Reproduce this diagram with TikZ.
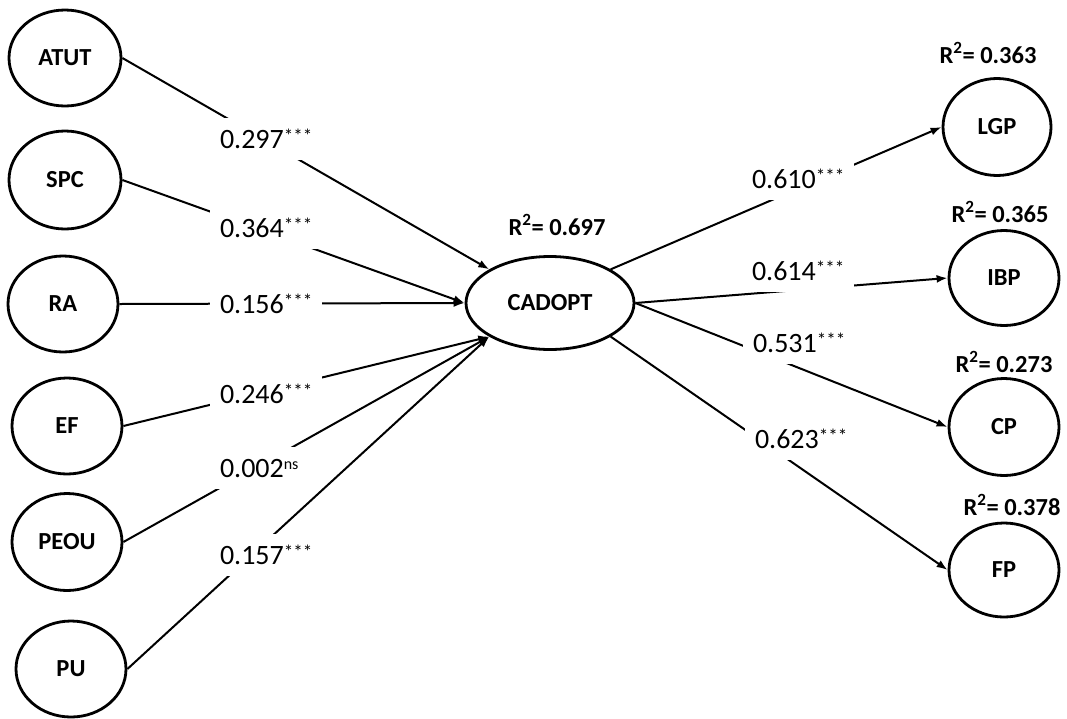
\documentclass[tikz,border=0pt]{standalone}
\usepackage{fontspec}
\setmainfont{Carlito}
\usetikzlibrary{shapes.geometric,arrows.meta}
\newcommand\sigmark[1]{\raisebox{6pt}{\fontsize{19pt}{19pt}\selectfont #1}}
\newcommand\nsmark[1]{\raisebox{7.5pt}{\fontsize{16pt}{16pt}\selectfont #1}}
\begin{document}
\begin{tikzpicture}[x=1pt,y=-1pt,
  lat/.style={draw, ellipse, line width=2.8pt, inner sep=0pt,
    font=\fontsize{24.5pt}{25pt}\selectfont\bfseries},
  coef/.style={fill=white, inner xsep=10pt, inner ysep=12pt, outer sep=0pt,
    text height=18pt, text depth=0pt, anchor=base west,
    font=\fontsize{28pt}{30pt}\selectfont},
  rsq/.style={anchor=base, inner sep=0pt, font=\fontsize{24.5pt}{25pt}\selectfont\bfseries},
  conn/.style={line width=2pt},
  arr/.style={conn, -{Latex[length=11pt,width=8pt]}}]
\useasboundingbox (0,0) rectangle (1067,718);
% latent variables
\node[lat, minimum width=112pt, minimum height=96pt] (ATUT) at (65,58) {ATUT};
\node[lat, minimum width=112pt, minimum height=98pt] (SPC) at (65,180) {SPC};
\node[lat, minimum width=110pt, minimum height=96pt] (RA) at (63,304) {RA};
\node[lat, minimum width=110pt, minimum height=96pt] (EF) at (67,426) {EF};
\node[lat, minimum width=110pt, minimum height=97pt] (PEOU) at (67,542) {PEOU};
\node[lat, minimum width=110pt, minimum height=96pt] (PU) at (71,669) {PU};
\node[lat, minimum width=168pt, minimum height=93pt] (CADOPT) at (550,303) {CADOPT};
\node[lat, minimum width=108pt, minimum height=97pt] (LGP) at (997,127) {LGP};
\node[lat, minimum width=110pt, minimum height=95pt] (IBP) at (1004,278) {IBP};
\node[lat, minimum width=110pt, minimum height=97pt] (CP) at (1004,427) {CP};
\node[lat, minimum width=110pt, minimum height=94pt] (FP) at (1004,570) {FP};
% R squared
\node[rsq] (r0) at (557,235) {R\textsuperscript{2}= 0.697};
\node[rsq] (r1) at (988,63) {R\textsuperscript{2}= 0.363};
\node[rsq] (r2) at (1000,222) {R\textsuperscript{2}= 0.365};
\node[rsq] (r3) at (1004,372) {R\textsuperscript{2}= 0.273};
\node[rsq] (r4) at (1012,515) {R\textsuperscript{2}= 0.378};
% connectors
\draw[arr] (ATUT.east) -- (CADOPT.151);
\draw[arr] (SPC.east) -- (CADOPT.west);
\draw[arr] (RA.east) -- (CADOPT.west);
\draw[arr] (EF.east) -- (CADOPT.209);
\draw[arr] (PEOU.east) -- (CADOPT.209);
\draw[arr] (PU.east) -- (CADOPT.209);
\draw[arr] (CADOPT.29) -- (LGP.west);
\draw[arr] (CADOPT.east) -- (IBP.west);
\draw[arr] (CADOPT.east) -- (CP.west);
\draw[arr] (CADOPT.-29) -- (FP.west);
% coefficients
\node[coef] (c1) at (210,148) {0.297\sigmark{***}};
\node[coef] (c2) at (210,237) {0.364\sigmark{***}};
\node[coef] (c3) at (210,313) {0.156\sigmark{***}};
\node[coef] (c4) at (210,403) {0.246\sigmark{***}};
\node[coef] (c5) at (210,477) {0.002\nsmark{ns}};
\node[coef] (c6) at (210,564) {0.157\sigmark{***}};
\node[coef] (c7) at (742,188) {0.610\sigmark{***}};
\node[coef] (c8) at (742,280) {0.614\sigmark{***}};
\node[coef] (c9) at (743,352) {0.531\sigmark{***}};
\node[coef] (c10) at (745,448) {0.623\sigmark{***}};
\end{tikzpicture}
\end{document}
